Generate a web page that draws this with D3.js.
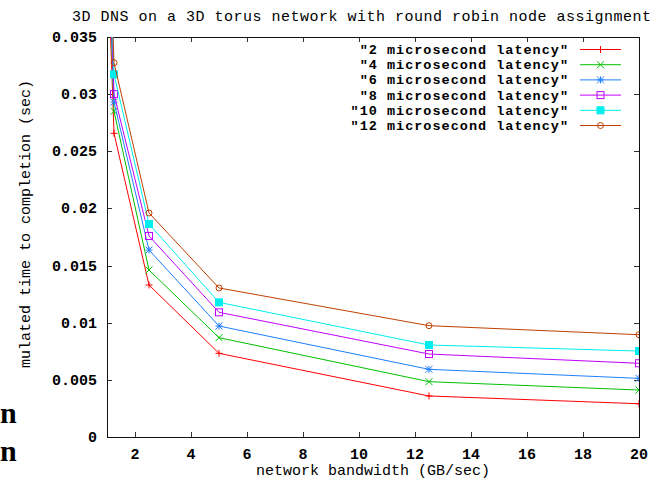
<!DOCTYPE html>
<html>
<head>
<meta charset="utf-8">
<script src="https://cdn.jsdelivr.net/npm/d3@7"></script>
<style>
  body { margin: 0; background: #fff; }
  text { font-family: "Liberation Mono", "DejaVu Sans Mono", monospace; }
</style>
</head>
<body>
<div id="chart"></div>
<script>
// bandwidth values (GB/sec); the first one sits left of the visible range
const bandwidth = [1, 1.25, 2.5, 5, 12.5, 20];

// simulated time to completion (sec), one array per latency
const lat2  = [0.0440, 0.02657, 0.0133, 0.00732, 0.00359, 0.00291];
const lat4  = [0.0470, 0.0285, 0.01461, 0.00869, 0.00484, 0.00411];
const lat6  = [0.0480, 0.0293, 0.01636, 0.00971, 0.00592, 0.00513];
const lat8  = [0.0490, 0.0300, 0.01759, 0.01091, 0.00726, 0.00645];
const lat10 = [0.0500, 0.03173, 0.01864, 0.01178, 0.00805, 0.00752];
const lat12 = [0.0520, 0.03275, 0.0196, 0.01304, 0.00974, 0.00895];

const seriesNames = [
  "\"2 microsecond latency\"", "\"4 microsecond latency\"", "\"6 microsecond latency\"",
  "\"8 microsecond latency\"", "\"10 microsecond latency\"", "\"12 microsecond latency\""
];
const seriesValues = [lat2, lat4, lat6, lat8, lat10, lat12];
const colors = ["#ff0000", "#00c000", "#1e7fff", "#c000ff", "#00eeee", "#c04000"];
const markers = ["plus", "cross", "star", "box", "fbox", "circle"];

const xTicks = [2, 4, 6, 8, 10, 12, 14, 16, 18, 20];
const yTicks = [0, 0.005, 0.01, 0.015, 0.02, 0.025, 0.03, 0.035];

const W = 662, H = 480;
const margin = { top: 37, right: 23, bottom: 43, left: 107 };

const svg = d3.select("#chart").append("svg")
    .attr("width", W)
    .attr("height", H);

const x = d3.scaleLinear().domain([1, 20]).range([margin.left, W - margin.right]);
const y = d3.scaleLinear().domain([0, 0.035]).range([H - margin.bottom, margin.top]);

const x0 = x.range()[0], x1 = x.range()[1];
const y0 = y.range()[0], y1 = y.range()[1];

// clip for the curves
svg.append("clipPath").attr("id", "plotclip")
  .append("rect")
    .attr("x", x0).attr("y", y1)
    .attr("width", x1 - x0).attr("height", y0 - y1);

// ticks (inward, mirrored)
const tickLen = 5;
const ticks = svg.append("g").attr("stroke", "#333").attr("stroke-width", 1);
xTicks.forEach(t => {
  const px = Math.round(x(t)) + 0.5;
  ticks.append("line").attr("x1", px).attr("x2", px).attr("y1", y0).attr("y2", y0 - tickLen);
  ticks.append("line").attr("x1", px).attr("x2", px).attr("y1", y1).attr("y2", y1 + tickLen);
});
yTicks.forEach(t => {
  const py = Math.round(y(t)) + 0.5;
  ticks.append("line").attr("x1", x0).attr("x2", x0 + tickLen).attr("y1", py).attr("y2", py);
  ticks.append("line").attr("x1", x1).attr("x2", x1 - tickLen).attr("y1", py).attr("y2", py);
});

// frame
svg.append("rect")
    .attr("x", x0 + 0.5).attr("y", y1 + 0.5)
    .attr("width", x1 - x0).attr("height", y0 - y1)
    .attr("fill", "none")
    .attr("stroke", "#111");

// tick labels
svg.append("g").selectAll("text")
  .data(xTicks).enter().append("text")
    .attr("x", d => x(d))
    .attr("y", 459)
    .attr("text-anchor", "middle")
    .style("font-size", "15px")
    .style("font-weight", "bold")
    .text(d => d);

svg.append("g").selectAll("text")
  .data(yTicks).enter().append("text")
    .attr("x", 97)
    .attr("y", d => y(d) + 5)
    .attr("text-anchor", "end")
    .style("font-size", "15px")
    .style("font-weight", "bold")
    .text(d => d3.format("~g")(d));

// marker drawing
function drawMarker(g, type, cx, cy, color) {
  const s = 3.5;
  if (type === "plus") {
    g.append("path").attr("d", `M${cx - s},${cy}H${cx + s}M${cx},${cy - s}V${cy + s}`)
      .attr("stroke", color).attr("fill", "none");
  } else if (type === "cross") {
    g.append("path").attr("d", `M${cx - s},${cy - s}L${cx + s},${cy + s}M${cx - s},${cy + s}L${cx + s},${cy - s}`)
      .attr("stroke", color).attr("fill", "none");
  } else if (type === "star") {
    g.append("path").attr("d", `M${cx - s},${cy}H${cx + s}M${cx},${cy - s}V${cy + s}M${cx - s},${cy - s}L${cx + s},${cy + s}M${cx - s},${cy + s}L${cx + s},${cy - s}`)
      .attr("stroke", color).attr("fill", "none");
  } else if (type === "box") {
    g.append("rect").attr("x", cx - s).attr("y", cy - s).attr("width", 2 * s).attr("height", 2 * s)
      .attr("stroke", color).attr("fill", "none");
  } else if (type === "fbox") {
    g.append("rect").attr("x", cx - s).attr("y", cy - s).attr("width", 2 * s).attr("height", 2 * s)
      .attr("stroke", color).attr("fill", color);
  } else {
    g.append("circle").attr("cx", cx).attr("cy", cy).attr("r", 3)
      .attr("stroke", color).attr("fill", "none");
  }
}

// curves
const line = d3.line().x(d => x(d[0])).y(d => y(d[1]));
const plot = svg.append("g").attr("clip-path", "url(#plotclip)");

seriesValues.forEach((vals, i) => {
  const pts = bandwidth.map((b, j) => [b, vals[j]]);
  plot.append("path")
      .datum(pts)
      .attr("fill", "none")
      .attr("stroke", colors[i])
      .attr("stroke-width", 1)
      .attr("d", line);
  const mg = plot.append("g");
  pts.filter(p => p[1] <= 0.035 && p[0] >= 1.1).forEach(p => {
    drawMarker(mg, markers[i], x(p[0]), y(p[1]), colors[i]);
  });
});

// legend
const legend = svg.append("g");
seriesNames.forEach((name, i) => {
  const ly = 49.5 + i * 15.2;
  legend.append("text")
      .attr("x", 569)
      .attr("y", ly + 4.5)
      .attr("text-anchor", "end")
      .style("font-size", "13.5px")
      .style("letter-spacing", "1px")
      .style("font-weight", "bold")
      .text(name);
  legend.append("line")
      .attr("x1", 580).attr("x2", 621)
      .attr("y1", ly).attr("y2", ly)
      .attr("stroke", colors[i]);
  drawMarker(legend, markers[i], 600.5, ly, colors[i]);
});

// title and axis labels
svg.append("text")
    .attr("x", 72)
    .attr("y", 21)
    .style("font-size", "15px")
    .style("letter-spacing", "0.5px")
    .text("3D DNS on a 3D torus network with round robin node assignment");

svg.append("text")
    .attr("x", (x0 + x1) / 2)
    .attr("y", 475)
    .attr("text-anchor", "middle")
    .style("font-size", "15px")
    .text("network bandwidth (GB/sec)");

svg.append("text")
    .attr("transform", "rotate(-90)")
    .attr("x", -224)
    .attr("y", 30)
    .attr("text-anchor", "middle")
    .style("font-size", "15px")
    .text("mulated time to completion (sec)");

// stray slide letters at the lower left
[423, 461].forEach(by => {
  svg.append("text")
      .attr("x", 0)
      .attr("y", by)
      .style("font-family", "'Liberation Serif', serif")
      .style("font-weight", "bold")
      .style("font-size", "30px")
      .text("n");
});
</script>
</body>
</html>
